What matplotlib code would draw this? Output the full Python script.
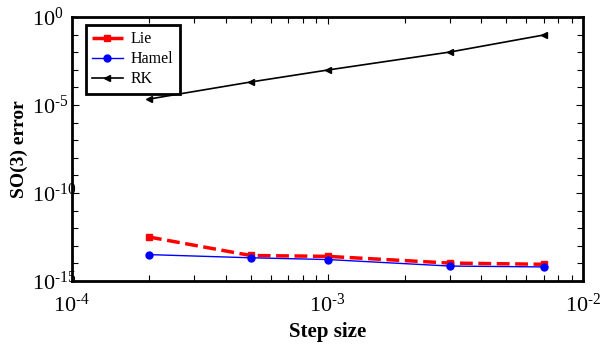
import numpy as np
import matplotlib.pyplot as plt
from matplotlib.ticker import LogLocator, NullFormatter, FixedLocator, FuncFormatter

plt.rcParams['font.family'] = ['Liberation Serif', 'DejaVu Serif']
plt.rcParams['mathtext.fontset'] = 'stix'

# step sizes and errors
step = [2e-4, 5e-4, 1e-3, 3e-3, 7e-3]
lie_err = [10**-12.5, 10**-13.55, 10**-13.6, 10**-13.98, 10**-14.05]
hamel_err = [10**-13.5, 10**-13.68, 10**-13.78, 10**-14.15, 10**-14.2]
rk_err = [10**-4.66, 10**-3.69, 10**-3.01, 10**-1.99, 10**-1.02]


def pow10(v, pos):
    e = int(round(np.log10(v)))
    if e < 0:
        return r'$\mathdefault{10^{\text{-}%d}}$' % (-e)
    return r'$\mathdefault{10^{%d}}$' % e


fig = plt.figure(figsize=(6, 3.45), dpi=100)
ax = fig.add_axes([0.12, 0.1855, 0.852, 0.765])

ax.loglog(step, lie_err, '--s', color='red', lw=2.5, ms=4.5, label='Lie')
ax.loglog(step, hamel_err, '-o', color='blue', lw=1, ms=5, label='Hamel')
ax.loglog(step, rk_err, '-<', color='black', lw=1.2, ms=5, label='RK')

ax.set_xlim(1e-4, 1e-2)
ax.set_ylim(1e-15, 1e0)
ax.yaxis.set_major_locator(FixedLocator([1e-15, 1e-10, 1e-5, 1e0]))
ax.yaxis.set_minor_locator(FixedLocator([10.0**k for k in range(-15, 1)]))
ax.yaxis.set_minor_formatter(NullFormatter())
ax.xaxis.set_minor_locator(LogLocator(base=10, subs=np.arange(2, 10), numticks=10))
ax.xaxis.set_minor_formatter(NullFormatter())
ax.xaxis.set_major_formatter(FuncFormatter(pow10))
ax.yaxis.set_major_formatter(FuncFormatter(pow10))

ax.tick_params(which='both', direction='in', top=True, right=True, labelsize=16)
ax.tick_params(which='major', length=5, width=0.8)
ax.tick_params(which='minor', length=4, width=0.8)
ax.tick_params(axis='x', which='major', pad=9)
ax.tick_params(axis='y', which='major', pad=29)
for lab in ax.get_yticklabels():
    lab.set_horizontalalignment('left')
for s in ax.spines.values():
    s.set_linewidth(2)

ax.set_xlabel('Step size', fontsize=15, fontweight='bold')
ax.set_ylabel('SO(3) error', fontsize=14, fontweight='bold')
ax.xaxis.set_label_coords(0.5, -0.155)
ax.yaxis.set_label_coords(-0.086, 0.5)

leg = ax.legend(loc='upper left', bbox_to_anchor=(0.027, 0.97), fontsize=11.5,
                fancybox=False, framealpha=1, edgecolor='black',
                borderaxespad=0, handlelength=1.9, handletextpad=0.5,
                labelspacing=0.25, borderpad=0.4)
leg.get_frame().set_linewidth(2)

fig.savefig('out.png', dpi=100)
